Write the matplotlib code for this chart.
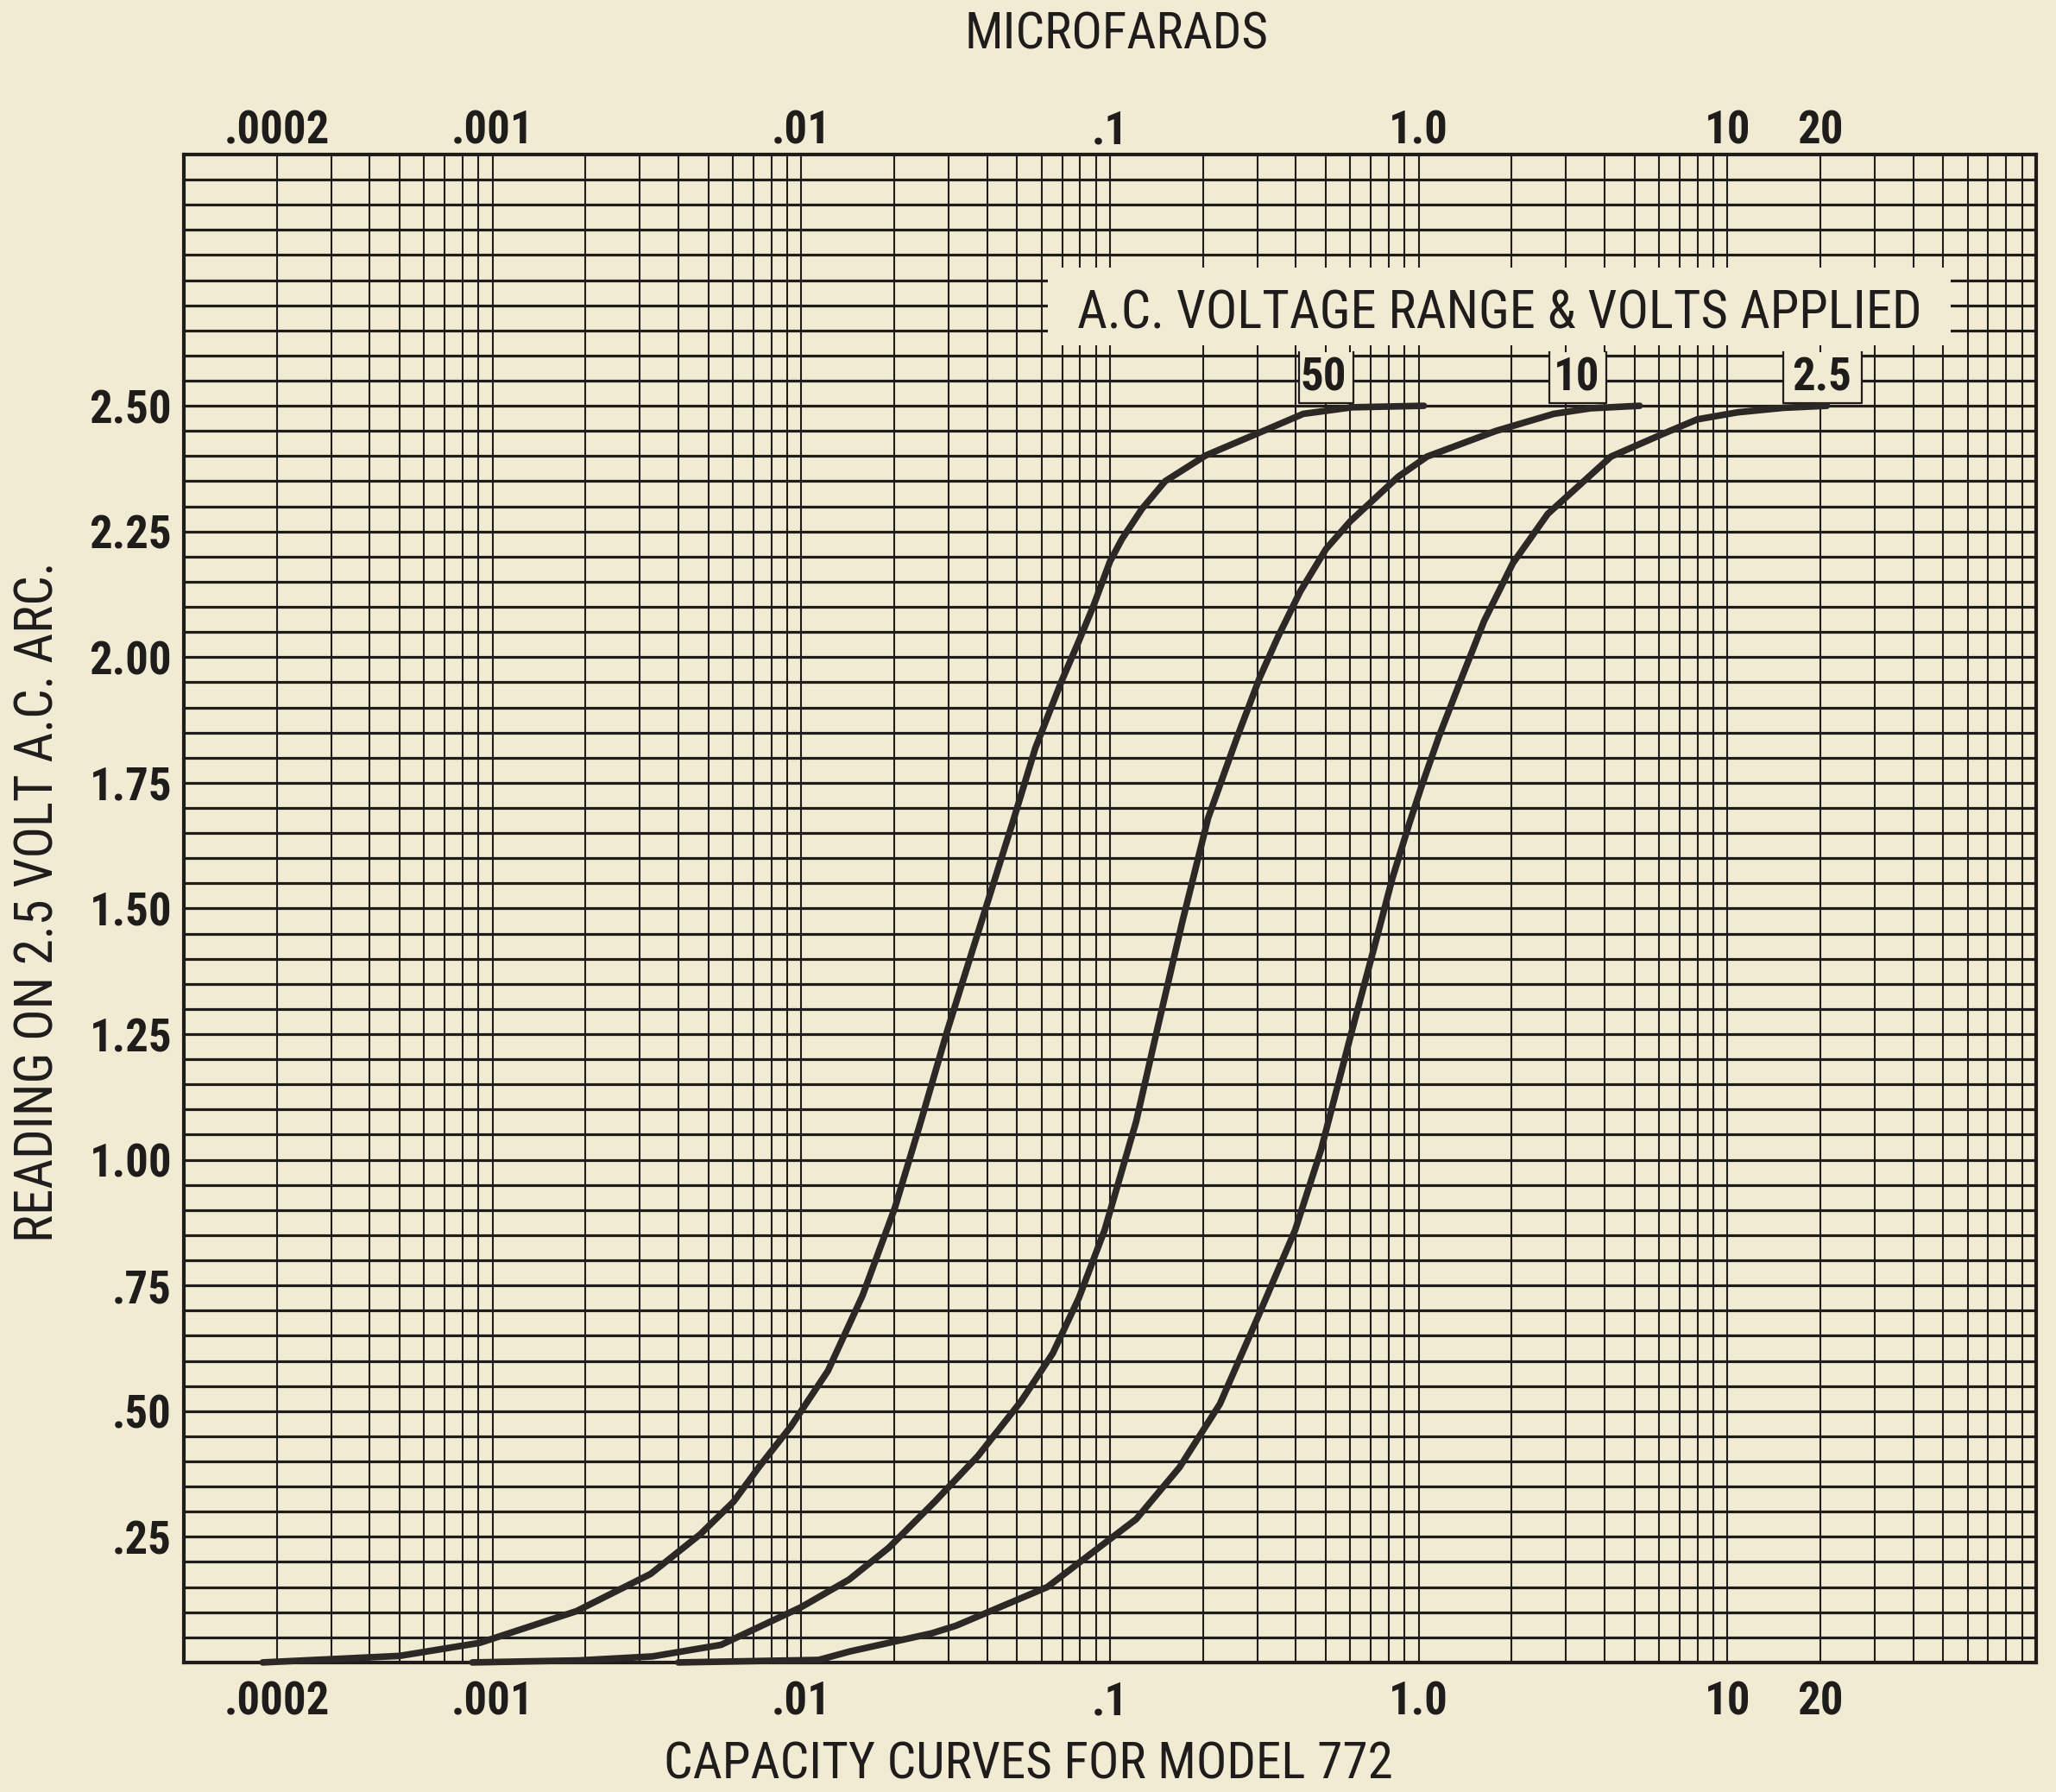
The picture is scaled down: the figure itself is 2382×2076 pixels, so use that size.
import numpy as np
import matplotlib.pyplot as plt
from matplotlib import font_manager
from matplotlib.ticker import FixedLocator, NullLocator, NullFormatter
from matplotlib.patches import Rectangle

BG = '#f2ebd3'
INK = '#1f1d1c'
CURVE = '#2b2826'

# the original uses a condensed grotesque; take the narrowest face we have
installed = {f.name for f in font_manager.fontManager.ttflist}
if 'Roboto Condensed' in installed:
    FACE, K = 'Roboto Condensed', 1.15
elif 'Liberation Sans Narrow' in installed:
    FACE, K = 'Liberation Sans Narrow', 1.2
else:
    FACE, K = 'Liberation Sans', 1.0
FAMILY = [FACE, 'DejaVu Sans']

# capacity in microfarads vs. reading on the 2.5 volt a.c. arc
uf_50 = [0.00018, 0.0005, 0.00091, 0.00187, 0.00325, 0.00471, 0.00604, 0.00732,
         0.00927, 0.0122, 0.0158, 0.0201, 0.0244, 0.0298, 0.0391, 0.0484, 0.0574,
         0.0697, 0.0793, 0.0883, 0.1, 0.1094, 0.127, 0.151, 0.204, 0.306, 0.423,
         0.608, 1.04]
read_50 = [0.0, 0.013, 0.039, 0.102, 0.176, 0.255, 0.32, 0.39,
           0.47, 0.58, 0.73, 0.904, 1.076, 1.259, 1.49, 1.671, 1.82,
           1.952, 2.032, 2.101, 2.19, 2.235, 2.295, 2.35, 2.401, 2.447, 2.484,
           2.497, 2.5]

uf_10 = [0.00086, 0.0019, 0.0033, 0.0055, 0.01, 0.0143, 0.0192, 0.0271, 0.0374,
         0.0516, 0.0653, 0.0793, 0.0961, 0.1216, 0.1415, 0.172, 0.208, 0.258,
         0.306, 0.35, 0.413, 0.501, 0.6, 0.859, 1.065, 1.78, 2.74, 3.6, 5.2]
read_10 = [0.0, 0.004, 0.012, 0.035, 0.11, 0.165, 0.228, 0.32, 0.411,
           0.52, 0.615, 0.725, 0.86, 1.076, 1.253, 1.476, 1.68, 1.84,
           1.96, 2.04, 2.13, 2.215, 2.27, 2.359, 2.399, 2.45, 2.484, 2.495, 2.5]

uf_2_5 = [0.004, 0.0114, 0.0144, 0.0265, 0.0317, 0.0627, 0.0883, 0.1216, 0.168,
          0.227, 0.301, 0.398, 0.483, 0.61, 0.738, 0.822, 0.934, 1.018,
          1.16, 1.375, 1.63, 2.02, 2.62, 4.2, 6.18, 7.99, 10.8, 15.2, 21.0]
read_2_5 = [0.0, 0.005, 0.022, 0.058, 0.073, 0.15, 0.22, 0.285, 0.388,
            0.514, 0.686, 0.86, 1.02, 1.26, 1.45, 1.56, 1.67, 1.74,
            1.84, 1.957, 2.072, 2.187, 2.285, 2.399, 2.444, 2.473, 2.487, 2.496, 2.5]

x_ticks = [0.0002, 0.001, 0.01, 0.1, 1.0, 10, 20]
x_labels = ['.0002', '.001', '.01', '.1', '1.0', '10', '20']
y_ticks = [0.25, 0.5, 0.75, 1.0, 1.25, 1.5, 1.75, 2.0, 2.25, 2.5]
y_labels = ['.25', '.50', '.75', '1.00', '1.25', '1.50', '1.75', '2.00', '2.25', '2.50']

range_names = ['50', '10', '2.5']
range_x = [0.493, 3.25, 20.2]
box_lo = [0.409, 2.65, 15.2]
box_hi = [0.614, 4.05, 27.2]

fig = plt.figure(figsize=(23.82, 20.76), dpi=100, facecolor=BG)
ax = fig.add_axes([0.0894, 0.0723, 0.9009, 0.8415])
ax.set_facecolor(BG)
ax.set_xscale('log')
ax.set_xlim(1e-4, 100)
ax.set_ylim(0, 3.0)

# log paper grid: every integer in each decade, and every .05 volt
grid_x = [k * 10.0 ** e for e in range(-4, 2) for k in range(1, 10)]
grid_y = np.arange(1, 60) * 0.05
ax.xaxis.set_minor_locator(FixedLocator(grid_x))
ax.yaxis.set_minor_locator(FixedLocator(grid_y))
ax.xaxis.set_minor_formatter(NullFormatter())
ax.yaxis.set_minor_formatter(NullFormatter())
ax.xaxis.remove_overlapping_locs = False
ax.yaxis.remove_overlapping_locs = False
ax.set_axisbelow(True)
ax.grid(which='minor', axis='x', color=INK, lw=1.5)
ax.grid(which='minor', axis='y', color=INK, lw=2.3)

tick_font = dict(fontsize=33 * K, fontweight='bold', family=FAMILY, color=INK)
ax.set_xticks(x_ticks, x_labels, **tick_font)
ax.set_yticks(y_ticks, y_labels, **tick_font)
ax.tick_params(axis='x', which='both', length=0, pad=15)
ax.tick_params(axis='y', which='both', length=0, pad=10)
for s in ax.spines.values():
    s.set_linewidth(3)
    s.set_color(INK)

top = ax.twiny()
top.set_xscale('log')
top.set_xlim(1e-4, 100)
top.set_xticks(x_ticks, x_labels, **tick_font)
top.xaxis.set_minor_locator(NullLocator())
top.tick_params(axis='x', which='both', length=0, pad=1)
for s in top.spines.values():
    s.set_visible(False)

# cleared panel for the legend heading
ax.add_patch(Rectangle((0.0629, 2.62), 53 - 0.0629, 0.155, facecolor=BG,
                       edgecolor='none', zorder=1))
ax.text(1.834, 2.683, 'A.C. VOLTAGE RANGE & VOLTS APPLIED', ha='center', va='center',
        fontsize=38 * K, family=FAMILY, color=INK, zorder=4)

for name, xc, lo, hi in zip(range_names, range_x, box_lo, box_hi):
    ax.add_patch(Rectangle((lo, 2.505), hi - lo, 0.102, facecolor=BG,
                           edgecolor='none', zorder=1))
    ax.plot([lo, lo, hi, hi], [2.607, 2.505, 2.505, 2.607], color=INK, lw=1.6, zorder=2)
    ax.text(xc, 2.555, name, ha='center', va='center', zorder=4, **tick_font)

for uf, rd in [(uf_50, read_50), (uf_10, read_10), (uf_2_5, read_2_5)]:
    ax.plot(uf, rd, color=CURVE, lw=5.5, solid_capstyle='round',
            solid_joinstyle='round', zorder=3, clip_on=False)

fig.text(0.543, 0.9805, 'MICROFARADS', ha='center', va='center',
         fontsize=37 * K, family=FAMILY, color=INK)
fig.text(0.500, 0.0077, 'CAPACITY CURVES FOR MODEL 772', ha='center', va='baseline',
         fontsize=37 * K, family=FAMILY, color=INK)
fig.text(0.0185, 0.4966, 'READING ON 2.5 VOLT A.C. ARC.', ha='center', va='center',
         rotation=90, fontsize=38 * K, family=FAMILY, color=INK)

fig.savefig('out.png', dpi=100, facecolor=BG)
